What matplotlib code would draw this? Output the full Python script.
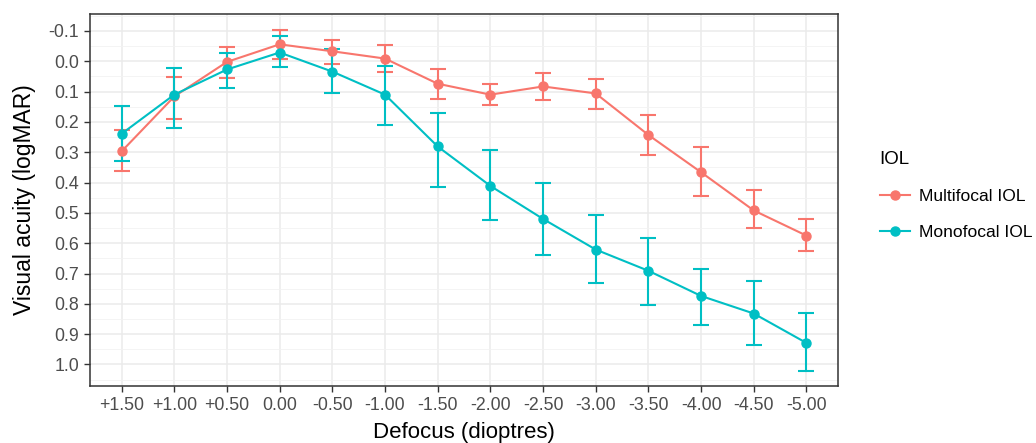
import numpy as np
import matplotlib.pyplot as plt
from matplotlib.ticker import MultipleLocator

plt.rcParams['font.family'] = ['Liberation Sans', 'DejaVu Sans']

# data
defocus = ['+1.50', '+1.00', '+0.50', '0.00', '-0.50', '-1.00', '-1.50',
           '-2.00', '-2.50', '-3.00', '-3.50', '-4.00', '-4.50', '-5.00']

multi_mean = [0.297, 0.116, 0.002, -0.056, -0.033, -0.009, 0.074,
              0.110, 0.083, 0.106, 0.243, 0.366, 0.492, 0.575]
multi_lo = [0.228, 0.053, -0.046, -0.103, -0.071, -0.053, 0.026,
            0.074, 0.037, 0.057, 0.176, 0.284, 0.425, 0.521]
multi_hi = [0.363, 0.189, 0.056, -0.007, 0.010, 0.035, 0.123,
            0.145, 0.129, 0.157, 0.308, 0.444, 0.550, 0.627]

mono_mean = [0.239, 0.110, 0.027, -0.029, 0.034, 0.110, 0.281,
             0.411, 0.520, 0.621, 0.691, 0.774, 0.832, 0.929]
mono_lo = [0.147, 0.022, -0.029, -0.082, -0.041, 0.017, 0.170,
           0.291, 0.400, 0.507, 0.583, 0.686, 0.724, 0.831]
mono_hi = [0.329, 0.221, 0.088, 0.020, 0.105, 0.211, 0.413,
           0.522, 0.639, 0.731, 0.804, 0.870, 0.937, 1.020]

series = [
    ('Multifocal IOL', multi_mean, multi_lo, multi_hi, '#F8766D'),
    ('Monofocal IOL', mono_mean, mono_lo, mono_hi, '#00BFC4'),
]

fig = plt.figure(figsize=(10.36, 4.43), dpi=100)
ax = fig.add_axes([0.0869, 0.1287, 0.722, 0.8397])

x = np.arange(len(defocus))
for name, mean, lo, hi, col in series:
    mean = np.array(mean)
    yerr = [mean - np.array(lo), np.array(hi) - mean]
    ax.errorbar(x, mean, yerr=yerr, color=col, fmt='none', elinewidth=1.5,
                capsize=6, capthick=1.5, zorder=3)
    ax.plot(x, mean, color=col, lw=1.5, marker='o', ms=6.5, label=name, zorder=4)

ax.set_xlim(-0.6, 13.6)
ax.set_ylim(1.071, -0.156)
ax.set_xticks(x)
ax.set_xticklabels(defocus)
ticks = np.round(np.arange(-0.1, 1.01, 0.1), 1)
ax.set_yticks(ticks)
ax.set_yticklabels([f'{t:.1f}' for t in ticks])
ax.yaxis.set_minor_locator(MultipleLocator(0.05))

ax.grid(True, which='major', color='#EBEBEB', lw=1.1, zorder=0)
ax.grid(True, which='minor', axis='y', color='#F2F2F2', lw=0.6, zorder=0)
ax.set_axisbelow(True)
ax.tick_params(axis='both', which='major', labelsize=12.8, labelcolor='#4D4D4D',
               color='#333333', length=4, width=1, pad=4)
ax.tick_params(axis='y', which='minor', length=0)
for s in ax.spines.values():
    s.set_color('#333333')
    s.set_linewidth(1.1)

ax.set_xlabel('Defocus (dioptres)', fontsize=16, labelpad=6)
ax.set_ylabel('Visual acuity (logMAR)', fontsize=16.5, labelpad=9)

leg = ax.legend(title='IOL', loc='upper left', bbox_to_anchor=(0.8405, 0.68),
                bbox_transform=fig.transFigure, borderpad=0,
                frameon=False, fontsize=12.6, title_fontsize=13.5,
                handlelength=1.75, handletextpad=0.5, labelspacing=1.2,
                alignment='left')

fig.savefig('out.png', dpi=100)
